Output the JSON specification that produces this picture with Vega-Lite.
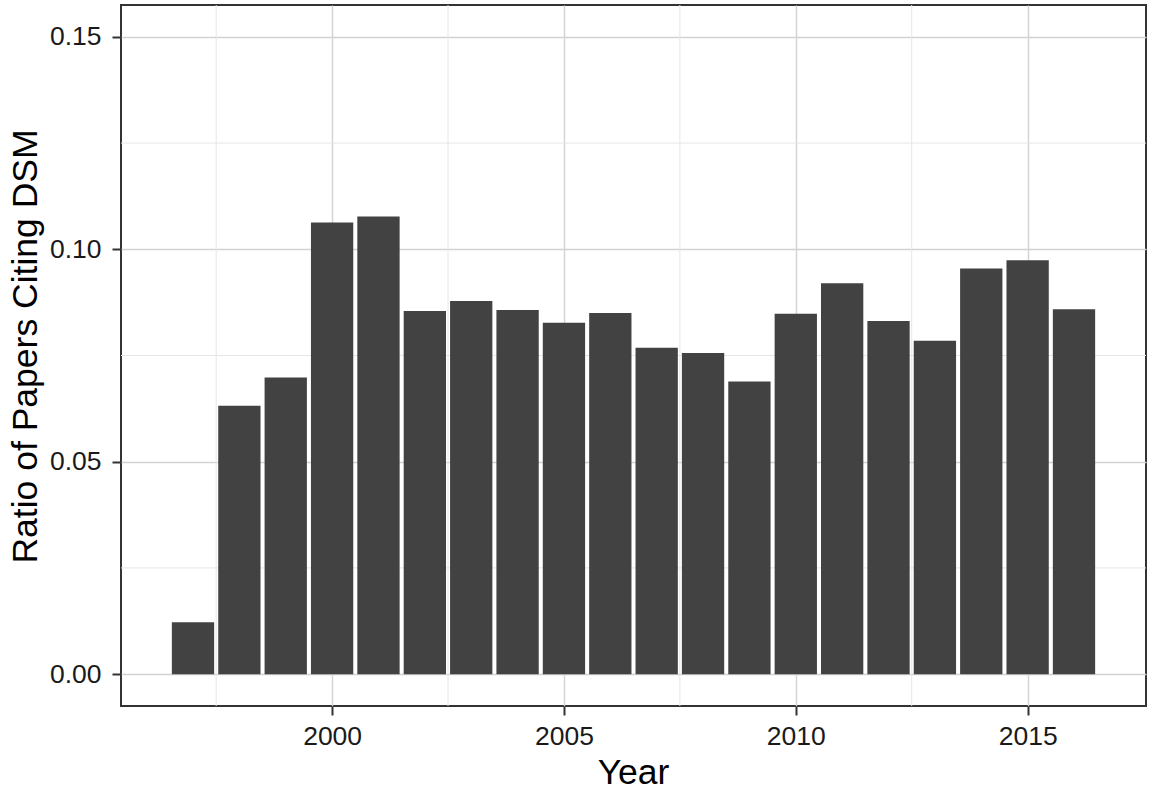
{
  "$schema": "https://vega.github.io/schema/vega-lite/v6.json",
  "width": 1025,
  "height": 701,
  "autosize": {"type": "none"},
  "padding": {"left": 121, "top": 5, "right": 6, "bottom": 85},
  "background": "white",
  "config": {
    "view": {"stroke": "#333333", "strokeWidth": 2},
    "font": "Liberation Sans",
    "axis": {
      "labelFont": "Liberation Sans",
      "titleFont": "Liberation Sans",
      "labelFontSize": 26.5,
      "labelColor": "#1a1a1a",
      "titleFontSize": 35.5,
      "titleFontWeight": "normal",
      "titleColor": "#000000",
      "tickColor": "#333333",
      "tickSize": 9,
      "tickWidth": 2,
      "domain": false,
      "gridColor": "#d2d2d2",
      "gridWidth": 1.4
    }
  },
  "datasets": {
    "ratios": [
      {"year": 1997, "ratio": 0.0122},
      {"year": 1998, "ratio": 0.0632},
      {"year": 1999, "ratio": 0.0698},
      {"year": 2000, "ratio": 0.1063},
      {"year": 2001, "ratio": 0.1077},
      {"year": 2002, "ratio": 0.0855},
      {"year": 2003, "ratio": 0.0878},
      {"year": 2004, "ratio": 0.0857},
      {"year": 2005, "ratio": 0.0827},
      {"year": 2006, "ratio": 0.0850},
      {"year": 2007, "ratio": 0.0768},
      {"year": 2008, "ratio": 0.0756},
      {"year": 2009, "ratio": 0.0689},
      {"year": 2010, "ratio": 0.0848},
      {"year": 2011, "ratio": 0.0920},
      {"year": 2012, "ratio": 0.0831},
      {"year": 2013, "ratio": 0.0785},
      {"year": 2014, "ratio": 0.0955},
      {"year": 2015, "ratio": 0.0974},
      {"year": 2016, "ratio": 0.0859}
    ],
    "minorX": [{"year": 1997.5}, {"year": 2002.5}, {"year": 2007.5}, {"year": 2012.5}],
    "minorY": [{"ratio": 0.025}, {"ratio": 0.075}, {"ratio": 0.125}]
  },
  "layer": [
    {
      "data": {"name": "minorX"},
      "mark": {"type": "rule", "color": "#e6e6e6", "strokeWidth": 1},
      "encoding": {
        "x": {"field": "year", "type": "quantitative", "scale": {"domain": [1995.555, 2017.445], "nice": false, "zero": false}}
      }
    },
    {
      "data": {"name": "minorY"},
      "mark": {"type": "rule", "color": "#e6e6e6", "strokeWidth": 1},
      "encoding": {
        "y": {"field": "ratio", "type": "quantitative", "scale": {"domain": [-0.0075, 0.1575], "nice": false}}
      }
    },
    {
      "data": {"name": "ratios"},
      "mark": {"type": "bar", "color": "#424242", "size": 42.3},
      "encoding": {
        "x": {
          "field": "year",
          "type": "quantitative",
          "scale": {"domain": [1995.555, 2017.445], "nice": false, "zero": false},
          "axis": {
            "values": [2000, 2005, 2010, 2015],
            "format": "d",
            "title": "Year",
            "labelPadding": 8,
            "titleX": 512,
            "titleY": 66,
            "titleBaseline": "middle",
            "titleAlign": "center"
          }
        },
        "y": {
          "field": "ratio",
          "type": "quantitative",
          "scale": {"domain": [-0.0075, 0.1575], "nice": false},
          "axis": {
            "values": [0, 0.05, 0.1, 0.15],
            "format": ".2f",
            "title": "Ratio of Papers Citing DSM",
            "labelPadding": 11,
            "titleX": -96,
            "titleY": 341,
            "titleAngle": -90,
            "titleBaseline": "middle",
            "titleAlign": "center"
          }
        }
      }
    }
  ]
}
